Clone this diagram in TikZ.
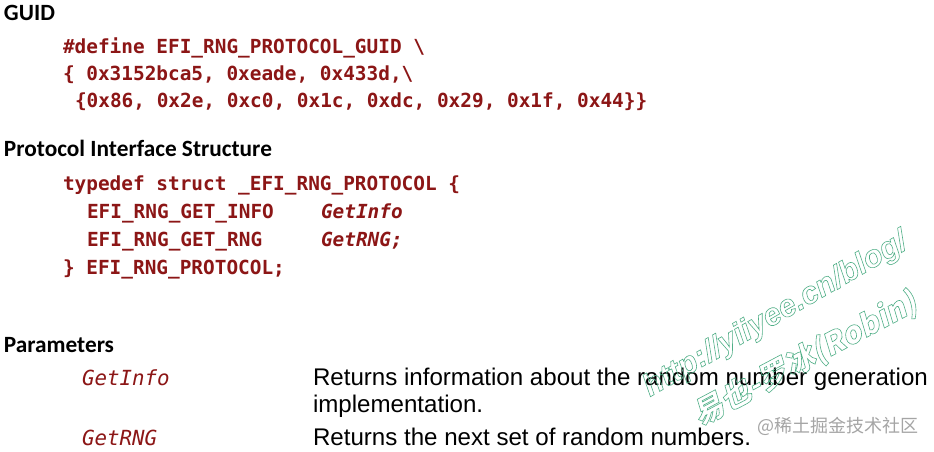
\documentclass[tikz,border=0pt]{standalone}
\usepackage{fontspec}
\setmainfont{Liberation Sans}
\newfontfamily\headfont{Carlito}
\newfontfamily\codefont{DejaVu Sans Mono}
\newfontfamily\wmfont{Liberation Sans}
\newfontfamily\cjkfont{Noto Sans CJK SC}
\newfontfamily\cjkslant{Noto Sans CJK SC}[FakeSlant=0.2]
\definecolor{codered}{RGB}{140,22,22}
\definecolor{wmgreen}{RGB}{80,175,135}
\definecolor{wmgray}{RGB}{165,165,165}
\newcommand{\outlineon}{\special{pdf:literal direct 1 Tr 0.6 w}}
\newcommand{\outlineoff}{\special{pdf:literal direct 0 Tr}}
\tikzset{
  txt/.style={anchor=base west, inner sep=0pt, outer sep=0pt},
  head/.style={txt, font=\headfont\bfseries\fontsize{23.3}{23.3}\selectfont, text=black},
  code/.style={txt, font=\codefont\bfseries\fontsize{19.4}{19.4}\selectfont, text=codered},
  codeit/.style={code, font=\codefont\bfseries\itshape\fontsize{19.4}{19.4}\selectfont},
  param/.style={txt, font=\codefont\itshape\fontsize{20.8}{20.8}\selectfont, text=codered},
  desc/.style={txt, font=\fontsize{24.1}{24.1}\selectfont, text=black},
  wm/.style={txt, font=\wmfont\bfseries\itshape\fontsize{31}{31}\selectfont, text=wmgreen},
  wmcjk/.style={txt, font=\cjkslant\bfseries\fontsize{30.5}{30.5}\selectfont, text=wmgreen},
  site/.style={txt, font=\cjkfont\fontsize{18}{18}\selectfont, text=wmgray}
}
\begin{document}
\begin{tikzpicture}[x=1pt,y=-1pt]
\useasboundingbox (0,0) rectangle (934,451);
\fill[white] (0,0) rectangle (934,451);
% GUID
\node[head] (h1) at (4,20.5) {GUID};
\node[code] (g1) at (63,53) {\#define EFI\_RNG\_PROTOCOL\_GUID \textbackslash};
\node[code] (g2) at (63,80) {\{ 0x3152bca5, 0xeade, 0x433d,\textbackslash};
\node[code] (g3) at (75,107) {\{0x86, 0x2e, 0xc0, 0x1c, 0xdc, 0x29, 0x1f, 0x44\}\}};
% Protocol Interface Structure
\node[head] (h2) at (4,156) {Protocol Interface Structure};
\node[code] (s1) at (63,190) {typedef struct \_EFI\_RNG\_PROTOCOL \{};
\node[code] (s2) at (87,218) {EFI\_RNG\_GET\_INFO};
\node[codeit] (s2b) at (321,218) {GetInfo};
\node[code] (s3) at (87,246) {EFI\_RNG\_GET\_RNG};
\node[codeit] (s3b) at (321,246) {GetRNG;};
\node[code] (s4) at (63,274) {\} EFI\_RNG\_PROTOCOL;};
% Parameters
\node[head] (h3) at (4,352) {Parameters};
\node[param] (p1) at (82,385) {GetInfo};
\node[desc] (d1) at (313,385) {Returns information about the random number generation};
\node[desc] (d1b) at (313,412) {implementation.};
\node[param] (p2) at (82,445) {GetRNG};
\node[desc] (d2) at (313,445) {Returns the next set of random numbers.};
% watermarks
\node[wm, rotate=30] (wm1) at (650,397) {\outlineon http://yiiyee.cn/blog/\outlineoff};
\node[wmcjk, rotate=28] (wm2) at (700,426) {\outlineon 易也-罗冰(Robin)\outlineoff};
\node[site] (wm3) at (757,432) {@稀土掘金技术社区};
\end{tikzpicture}
\end{document}
